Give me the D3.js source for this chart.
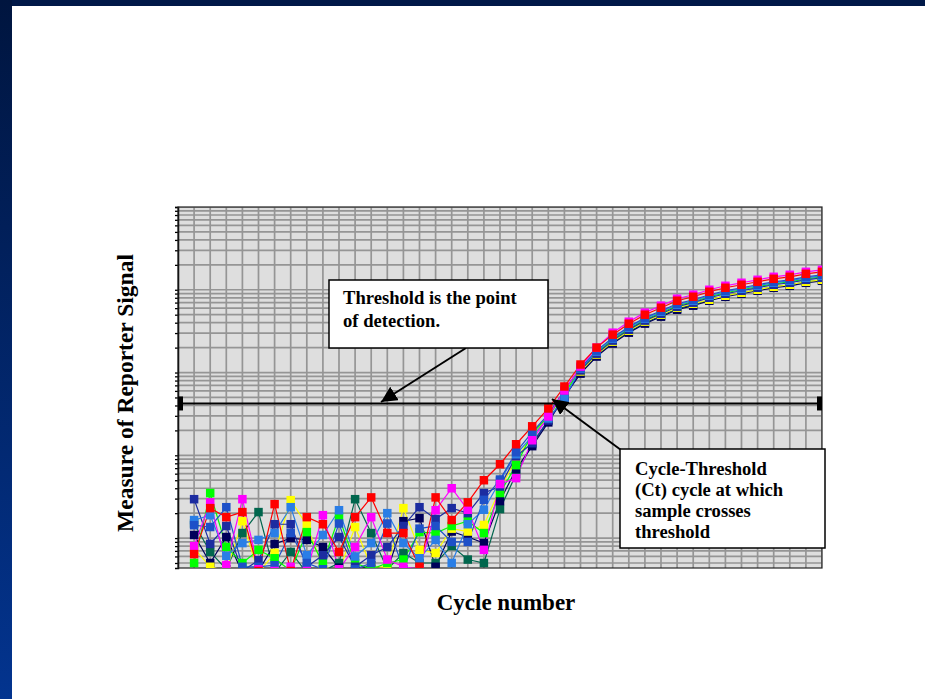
<!DOCTYPE html>
<html>
<head>
<meta charset="utf-8">
<script src="https://cdn.jsdelivr.net/npm/d3@7"></script>
<style>
html,body{margin:0;padding:0;background:#fff;}
svg{display:block;}
</style>
</head>
<body>
<svg id="chart" width="925" height="699"></svg>
<script>
// ---------------- DATA ----------------
const cycles = [1,2,3,4,5,6,7,8,9,10,11,12,13,14,15,16,17,18,19,20,21,22,23,24,25,26,27,28,29,30,31,32,33,34,35,36,37,38,39,40];

const seriesNames = ["darkgreen","darknavy","yellow","green","navy","blue","blue2","magenta","red"];
const seriesColors = ["#00664d","#00005a","#ffff00","#00ff00","#1c2ca0","#2a7ee6","#1e50c8","#ff00ff","#ff0000"];

const darkgreenValues = [1.5,0.68,0.42,1.15,2.06,0.38,0.68,0.38,0.4,0.5,2.95,1.15,0.42,0.66,0.5,0.5,0.8,0.55,
  0.5,2.24,5.9,13.6,26.4,51.4,100,160,230,312,400,486,590,660,758,847,920,1000,1087,1149,1249,1320];
const darknavyValues = [1.09,0.5,1.03,0.38,0.4,0.85,1.0,0.95,0.78,0.44,0.4,0.47,0.4,1.6,1.74,0.45,1.2,1.03,
  0.87,2.8,6.8,12.9,25.0,51.4,97,156,224,303,390,473,574,642,737,823,895,973,1057,1117,1214,1284];
const yellowValues = [0.75,0.45,0.4,1.6,0.38,0.66,2.87,1.43,0.45,0.4,1.36,0.45,0.45,2.3,0.72,0.66,1.3,1.2,
  1.44,3.9,9.0,17.0,29.5,57.4,103,165,236,320,412,500,607,678,758,847,920,1000,1087,1149,1249,1320];
const greenValues = [0.5,3.5,0.78,0.5,0.72,0.57,0.4,1.18,0.5,1.79,0.5,0.42,0.5,0.55,1.18,1.15,1.4,1.6,
  1.15,3.5,7.6,18.4,29.5,55.8,109,174,250,338,435,528,641,717,823,920,1000,1087,1181,1248,1356,1434];
const navyValues = [2.95,0.85,1.4,0.4,0.54,1.47,1.47,0.45,0.62,1.03,0.45,0.62,0.78,1.4,2.36,1.7,2.3,2.0,
  3.5,4.2,9.7,14.0,26.4,48.6,106,169,243,329,424,514,624,698,801,895,973,1058,1149,1215,1320,1396];
const blueValues = [1.65,1.89,0.61,0.87,0.95,1.15,2.36,0.62,1.09,2.17,0.6,0.87,2.0,0.87,0.57,0.95,0.5,1.47,
  2.2,4.9,10.3,17.0,27.9,48.6,112,179,257,348,448,543,660,737,847,946,1028,1118,1215,1283,1395,1475];
const blue2Values = [1.43,1.36,2.36,0.45,0.45,0.47,1.15,0.5,0.42,1.5,0.42,0.5,1.5,0.42,1.3,1.4,0.9,0.9,
  2.9,5.1,10.9,19.0,31.2,60.7,115,184,264,358,460,558,678,758,870,972,1057,1149,1248,1319,1434,1516];
const magentaValues = [0.8,2.7,0.47,2.95,0.42,0.4,0.45,0.4,1.89,0.42,0.78,1.79,0.55,0.45,0.42,2.17,4.0,2.2,
  0.72,4.5,5.3,15.2,29.5,60.7,118,200,303,411,529,642,779,871,1000,1117,1215,1320,1434,1516,1648,1742];
const redValues = [0.64,2.3,1.79,2.06,0.4,2.57,0.4,1.79,1.47,0.68,1.79,3.1,1.15,1.15,0.45,3.1,1.65,2.7,
  5.0,7.8,13.6,22.4,36.8,67.8,125,200,287,389,500,607,737,824,946,1057,1149,1249,1357,1434,1559,1648];

const seriesValues = [darkgreenValues,darknavyValues,yellowValues,greenValues,navyValues,blueValues,blue2Values,magentaValues,redValues];

const thresholdValue = 42.3;
const xDomain = [0, 40];
const yDomain = [0.435, 10000];

const xTitle = "Cycle number";
const yTitle = "Measure of Reporter Signal";
const thresholdNote = ["Threshold is the point", "of detection."];
const ctNote = ["Cycle-Threshold", "(Ct) cycle at which", "sample crosses", "threshold"];

// ---------------- DRAW ----------------
(function draw() {
const svg = d3.select("#chart");
const W = 925, H = 699;
const pL = 178, pR = 822, pT = 207, pB = 568;
const serif = "'Liberation Serif','Times New Roman',serif";

// slide background & border
const defs = svg.append("defs");
const grad = defs.append("linearGradient").attr("id","sideGrad").attr("x1",0).attr("y1",0).attr("x2",0).attr("y2",1);
grad.append("stop").attr("offset","0%").attr("stop-color","#00153f");
grad.append("stop").attr("offset","100%").attr("stop-color","#03348f");
svg.append("rect").attr("width",W).attr("height",H).attr("fill","#fff");
svg.append("rect").attr("x",0).attr("y",0).attr("width",W).attr("height",6).attr("fill","#001848");
svg.append("rect").attr("x",0).attr("y",0).attr("width",12).attr("height",H).attr("fill","url(#sideGrad)");

const x = d3.scaleLinear().domain(xDomain).range([pL, pR]);
const y = d3.scaleLog().domain(yDomain).range([pB, pT]);

defs.append("clipPath").attr("id","plotClip").append("rect")
  .attr("x",pL).attr("y",pT).attr("width",pR-pL).attr("height",pB-pT);

// plot background
svg.append("rect").attr("x",pL).attr("y",pT).attr("width",pR-pL).attr("height",pB-pT)
  .attr("fill","#dedede");

// grid
const gridVals = [];
for (let k = -1; k <= 4; k++) for (let m = 1; m <= 9; m++) {
  const v = m * Math.pow(10, k);
  if (v >= yDomain[0] && v <= yDomain[1]) gridVals.push(v);
}
const grid = svg.append("g").attr("clip-path","url(#plotClip)");
grid.selectAll("line.h").data(gridVals).join("line").attr("class","h")
  .attr("x1",pL).attr("x2",pR).attr("y1",d=>y(d)).attr("y2",d=>y(d))
  .attr("stroke","#959595").attr("stroke-width",1.7);
grid.selectAll("line.v").data(d3.range(xDomain[0], xDomain[1]+1)).join("line").attr("class","v")
  .attr("y1",pT).attr("y2",pB).attr("x1",d=>x(d)).attr("x2",d=>x(d))
  .attr("stroke","#959595").attr("stroke-width",1.7);

// left axis with small ticks
const yAxis = d3.axisLeft(y).tickValues(gridVals).tickSize(3).tickFormat("");
const ag = svg.append("g").attr("transform",`translate(${pL},0)`).call(yAxis);
ag.select(".domain").attr("stroke","#000").attr("stroke-width",1.5);
ag.selectAll(".tick line").attr("stroke","#000").attr("stroke-width",1.3);

// frame
svg.append("rect").attr("x",pL).attr("y",pT).attr("width",pR-pL).attr("height",pB-pT)
  .attr("fill","none").attr("stroke","#222").attr("stroke-width",1.2);

// series
const plot = svg.append("g").attr("clip-path","url(#plotClip)");
const line = d3.line().x((d,i)=>x(cycles[i])).y(d=>y(d));
seriesValues.forEach((vals, si) => {
  plot.append("path").datum(vals).attr("d", line)
    .attr("fill","none").attr("stroke", seriesColors[si]).attr("stroke-width",1.2);
});
const ms = 8.5;
seriesValues.forEach((vals, si) => {
  plot.append("g").selectAll("rect").data(vals).join("rect")
    .attr("x",(d,i)=>x(cycles[i]) - ms/2).attr("y",d=>y(d) - ms/2)
    .attr("width",ms).attr("height",ms).attr("fill", seriesColors[si]);
});

// threshold line with end caps
const ty = y(thresholdValue);
svg.append("line").attr("x1",pL).attr("x2",pR).attr("y1",ty).attr("y2",ty)
  .attr("stroke","#000").attr("stroke-width",2);
svg.append("rect").attr("x",pL).attr("y",ty-7).attr("width",5).attr("height",14).attr("fill","#000");
svg.append("rect").attr("x",pR-5).attr("y",ty-7).attr("width",5).attr("height",14).attr("fill","#000");

// arrow marker
defs.append("marker").attr("id","arrow").attr("viewBox","0 0 10 10").attr("refX",10).attr("refY",5)
  .attr("markerWidth",16).attr("markerHeight",16).attr("markerUnits","userSpaceOnUse")
  .attr("orient","auto")
  .append("path").attr("d","M0,0 L10,5 L0,10 z").attr("fill","#000");

// annotation 1
svg.append("line").attr("x1",466).attr("y1",348).attr("x2",381).attr("y2",402)
  .attr("stroke","#000").attr("stroke-width",2).attr("marker-end","url(#arrow)");
svg.append("rect").attr("x",329).attr("y",280).attr("width",219).attr("height",68)
  .attr("fill","#fff").attr("stroke","#000").attr("stroke-width",1.5);
svg.append("g").selectAll("text").data(thresholdNote).join("text")
  .attr("x",343).attr("y",(d,i)=>304 + i*23)
  .attr("font-family",serif).attr("font-weight","bold")
  .attr("font-size",18.6).attr("fill","#000").text(d=>d);

// annotation 2
svg.append("line").attr("x1",621).attr("y1",450).attr("x2",552).attr("y2",399)
  .attr("stroke","#000").attr("stroke-width",2).attr("marker-end","url(#arrow)");
svg.append("rect").attr("x",620).attr("y",449).attr("width",205).attr("height",99)
  .attr("fill","#fff").attr("stroke","#000").attr("stroke-width",1.5);
svg.append("g").selectAll("text").data(ctNote).join("text")
  .attr("x",635).attr("y",(d,i)=>475 + i*21)
  .attr("font-family",serif).attr("font-weight","bold")
  .attr("font-size",18.6).attr("fill","#000").text(d=>d);

// axis titles
svg.append("text").attr("x",506).attr("y",610).attr("text-anchor","middle")
  .attr("font-family",serif).attr("font-weight","bold")
  .attr("font-size",23).attr("fill","#000").text(xTitle);
svg.append("text").attr("transform","translate(133,393) rotate(-90)").attr("text-anchor","middle")
  .attr("font-family",serif).attr("font-weight","bold")
  .attr("font-size",23.5).attr("fill","#000").text(yTitle);
})();
</script>
</body>
</html>
